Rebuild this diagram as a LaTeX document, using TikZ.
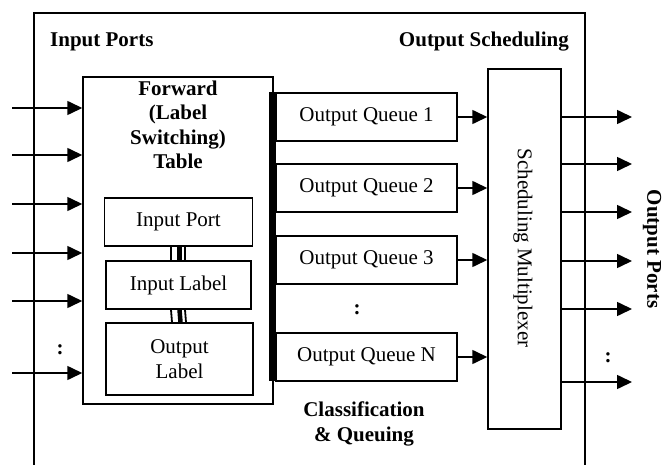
\documentclass[tikz,border=0pt]{standalone}
\usepackage{fontspec}
\setmainfont{Liberation Serif}
\usetikzlibrary{arrows.meta}
\begin{document}
\begin{tikzpicture}[x=1pt,y=-1pt,
  box/.style={draw,line width=1.5pt,inner sep=0pt,font=\fontsize{21}{24.5}\selectfont,align=center},
  bl/.style={font=\fontsize{21}{24.5}\selectfont\bfseries,inner sep=0pt,align=center},
  dots/.style={font=\fontsize{21}{24}\selectfont\bfseries,inner sep=0pt},
  arr/.style={line width=1.6pt,-{Triangle[length=15pt,width=14pt]}},
  tri/.style={line width=1.8pt}]
\useasboundingbox (0,0) rectangle (663,465);
% outer frame (open at the bottom)
\draw[line width=1.5pt] (34,470) -- (34,13) -- (585,13) -- (585,470);
\node[bl,anchor=west] (inports) at (50,42) {Input Ports};
\node[bl,anchor=east] (outsched) at (569,42) {Output Scheduling};
\node[bl] (classq) at (364,424) {Classification\\\& Queuing};
% forwarding table
\node[box,minimum width=190,minimum height=327] (table) at (178,240.5) {};
\node[bl] (ttitle) at (178,125) {Forward\\(Label\\Switching)\\Table};
\node[box,minimum width=148,minimum height=48] (inport) at (178.5,222) {Input Port};
\node[box,minimum width=145,minimum height=48] (inlabel) at (178.5,285) {Input Label};
\node[box,minimum width=147,minimum height=72] (outlabel) at (179.5,359) {Output\\Label};
\foreach \a/\b in {inport/inlabel,inlabel/outlabel}{
  \draw[tri] ([xshift=-7.5pt]\a.south) -- ([xshift=-7.5pt]\b.north);
  \draw[line width=4.5pt] ([xshift=1pt]\a.south) -- ([xshift=1pt]\b.north);
  \draw[tri] ([xshift=6.5pt]\a.south) -- ([xshift=6.5pt]\b.north);
}
% bus bar
\node[fill,inner sep=0pt,minimum width=7,minimum height=289] (bar) at (272,236.5) {};
% queues
\node[box,minimum width=181,minimum height=48] (q1) at (366.5,117) {Output Queue 1};
\node[box,minimum width=181,minimum height=48] (q2) at (366.5,188) {Output Queue 2};
\node[box,minimum width=181,minimum height=48] (q3) at (366.5,260) {Output Queue 3};
\node[box,minimum width=181,minimum height=48] (qn) at (366.5,357) {Output Queue N};
\node[dots] (qdots) at (357,310) {:};
% multiplexer
\node[box,minimum width=73,minimum height=360] (mux) at (524.5,249) {};
\node[rotate=-90,font=\fontsize{21}{24}\selectfont,inner sep=0pt] (muxtext) at (523,248) {Scheduling Multiplexer};
\foreach \q in {q1,q2,q3,qn}{
  \draw[arr] (\q.east) -- (\q.east -| mux.west);
}
% input arrows
\foreach \i/\y in {1/108,2/155,3/204,4/253,5/301,6/373}{
  \coordinate (in\i) at (12,\y);
  \draw[arr] (in\i) -- (in\i -| table.west);
}
\node[dots] (indots) at (60,350) {:};
% output arrows
\foreach \i/\y in {1/117,2/164,3/212,4/261,5/309,6/382}{
  \coordinate (out\i) at (632,\y);
  \draw[arr] (out\i -| mux.east) -- (out\i);
}
\node[dots] (outdots) at (608,358) {:};
\node[bl,rotate=-90] (outports) at (652,249) {Output Ports};
\end{tikzpicture}
\end{document}
